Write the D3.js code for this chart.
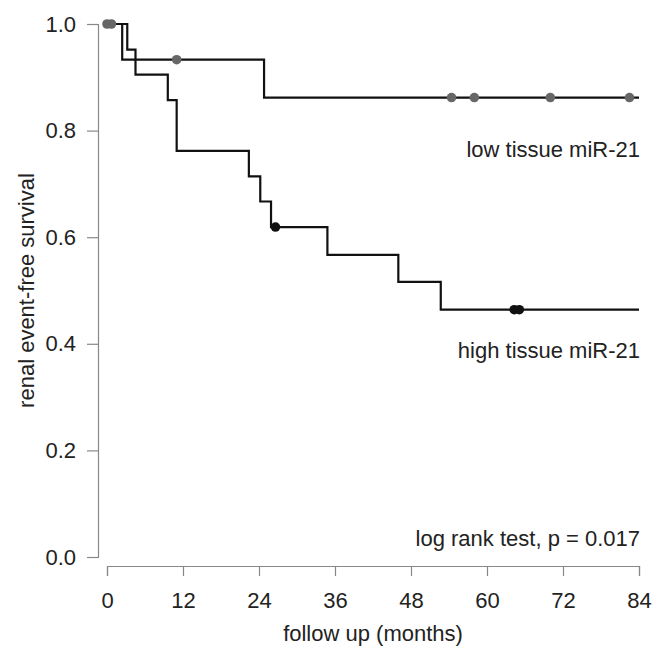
<!DOCTYPE html>
<html lang="en">
<head>
<meta charset="UTF-8">
<title>Renal event-free survival</title>
<script src="https://d3js.org/d3.v7.min.js"></script>
<style>
    body { margin: 0; background: #fff; }
    svg text { font-family: "Liberation Sans", Arial, sans-serif; fill: #222; }
</style>
</head>
<body>
<svg id="chart" width="652" height="648"></svg>
<script>
    // Kaplan-Meier step data (months, survival)
    const lowTimes = [0, 2.4, 24.8, 84];
    const lowSurv = [1.0, 0.933, 0.862, 0.862];
    const lowCensor = [0, 0.7, 11, 54.4, 58, 70, 82.5];

    const highTimes = [0, 3.2, 4.5, 9.6, 11.0, 22.4, 24.2, 25.9, 34.8, 46.0, 52.7, 84];
    const highSurv = [1.0, 0.952, 0.905, 0.857, 0.762, 0.714, 0.667, 0.619, 0.567, 0.516, 0.464, 0.464];
    const highCensor = [26.6, 64.3, 65.1];

    const xTicks = [0, 12, 24, 36, 48, 60, 72, 84];
    const yTicks = [0, 0.2, 0.4, 0.6, 0.8, 1.0];

    const fontSize = 22;
    const axisColor = "#888";

    const svg = d3.select("#chart");

    const x = d3.scaleLinear().domain([0, 84]).range([107, 639]);
    const y = d3.scaleLinear().domain([0, 1]).range([557, 24]);

    // y axis (R style, detached from x axis)
    const yAxis = svg.append("g")
        .attr("transform", "translate(98,0)")
        .call(d3.axisLeft(y).tickValues(yTicks).tickFormat(d3.format(".1f")).tickSize(11).tickPadding(11));
    yAxis.select(".domain").attr("stroke", axisColor).attr("stroke-width", 1.2);
    yAxis.selectAll(".tick line").attr("stroke", axisColor).attr("stroke-width", 1.2);
    yAxis.selectAll(".tick text").attr("font-size", fontSize).attr("fill", "#222");

    // x axis
    const xAxis = svg.append("g")
        .attr("transform", "translate(0,566)")
        .call(d3.axisBottom(x).tickValues(xTicks).tickSize(10).tickPadding(16));
    xAxis.select(".domain").attr("stroke", axisColor).attr("stroke-width", 1.2);
    xAxis.selectAll(".tick line").attr("stroke", axisColor).attr("stroke-width", 1.2);
    xAxis.selectAll(".tick text").attr("font-size", fontSize).attr("fill", "#222");

    // axis titles
    svg.append("text")
        .attr("x", x(42)).attr("y", 641)
        .attr("text-anchor", "middle").attr("font-size", fontSize)
        .text("follow up (months)");

    svg.append("text")
        .attr("transform", "translate(34," + y(0.5) + ") rotate(-90)")
        .attr("text-anchor", "middle").attr("font-size", fontSize)
        .text("renal event-free survival");

    // step curves
    const line = d3.line()
        .x(d => x(d[0]))
        .y(d => y(d[1]))
        .curve(d3.curveStepAfter);

    const lowPts = lowTimes.map((t, i) => [t, lowSurv[i]]);
    const highPts = highTimes.map((t, i) => [t, highSurv[i]]);

    function survAt(times, surv, t) {
        let s = surv[0];
        times.forEach((tt, i) => { if (tt <= t) s = surv[i]; });
        return s;
    }

    svg.append("path")
        .datum(highPts)
        .attr("d", line)
        .attr("fill", "none")
        .attr("stroke", "#111")
        .attr("stroke-width", 2.2);

    svg.append("path")
        .datum(lowPts)
        .attr("d", line)
        .attr("fill", "none")
        .attr("stroke", "#111")
        .attr("stroke-width", 2.2);

    // censor marks
    svg.append("g").selectAll("circle")
        .data(lowCensor)
        .enter().append("circle")
        .attr("cx", d => x(d))
        .attr("cy", d => y(survAt(lowTimes, lowSurv, d)))
        .attr("r", 4.8)
        .attr("fill", "#676767");

    svg.append("g").selectAll("circle")
        .data(highCensor)
        .enter().append("circle")
        .attr("cx", d => x(d))
        .attr("cy", d => y(survAt(highTimes, highSurv, d)))
        .attr("r", 4.8)
        .attr("fill", "#111");

    // labels
    svg.append("text")
        .attr("x", 640).attr("y", 157)
        .attr("text-anchor", "end").attr("font-size", fontSize)
        .text("low tissue miR-21");

    svg.append("text")
        .attr("x", 640).attr("y", 358)
        .attr("text-anchor", "end").attr("font-size", fontSize)
        .text("high tissue miR-21");

    svg.append("text")
        .attr("x", 640).attr("y", 546)
        .attr("text-anchor", "end").attr("font-size", fontSize)
        .text("log rank test, p = 0.017");
</script>
</body>
</html>
